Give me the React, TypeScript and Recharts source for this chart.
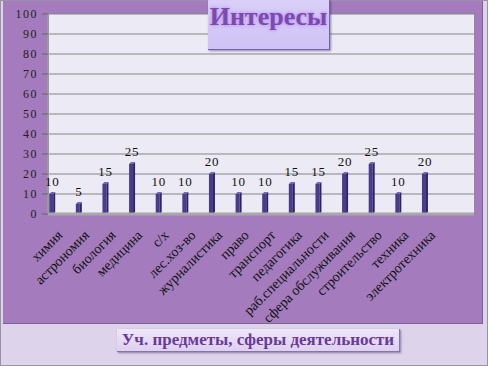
import React from 'react';
import { BarChart, Bar, XAxis, YAxis, CartesianGrid, LabelList } from 'recharts';

const categories = [
  'химия', 'астрономия', 'биология', 'медицина', 'с/х', 'лес.хоз-во', 'журналистика', 'право',
  'транспорт', 'педагогика', 'раб.специальности', 'сфера обслуживания', 'строительство', 'техника',
  'электротехника', '',
];
const values: (number | null)[] = [10, 5, 15, 25, 10, 10, 20, 10, 10, 15, 15, 20, 25, 10, 20, null];
const yTicks = [0, 10, 20, 30, 40, 50, 60, 70, 80, 90, 100];
const chartTitle = 'Интересы';
const axisTitle = 'Уч. предметы, сферы деятельности';

const data = categories.map((name, i) => ({ name, value: values[i] }));

const SERIF = '"Liberation Serif", "DejaVu Serif", serif';
const BAR_DX = -9.3;

const Bar3D = (props: any) => {
  const { x, y, width, height } = props;
  if (!height || height <= 0) return null;
  const cx = x + width / 2 + BAR_DX;
  return (
    <g>
      <rect x={cx - 3} y={y} width={4} height={height} fill="#4A3B8E" />
      <polygon
        points={`${cx + 1},${y} ${cx + 3},${y - 2} ${cx + 3},${y + height - 2} ${cx + 1},${y + height}`}
        fill="#2D2463"
      />
      <polygon
        points={`${cx - 3},${y} ${cx - 1},${y - 2} ${cx + 3},${y - 2} ${cx + 1},${y}`}
        fill="#7466B6"
      />
    </g>
  );
};

const renderLabel = (props: any) => {
  const { x, y, width, value } = props;
  if (value == null) return null;
  return (
    <text
      x={x + width / 2 + BAR_DX}
      y={y - 8}
      textAnchor="middle"
      fontFamily={SERIF}
      fontSize={13}
      letterSpacing={0.8}
      fill="#111111"
      stroke="none"
    >
      {value}
    </text>
  );
};

const XTick = (props: any) => {
  const { x, y, payload } = props;
  const ax = x + 2;
  const ay = y + 14;
  return (
    <text
      x={ax}
      y={ay}
      transform={`rotate(-45, ${ax}, ${ay})`}
      textAnchor="end"
      fontFamily={SERIF}
      fontSize={14}
      fill="#111"
    >
      {payload.value}
    </text>
  );
};

const YTick = (props: any) => {
  const { x, y, payload } = props;
  return (
    <text
      x={x - 2}
      y={y + 4}
      textAnchor="end"
      fontFamily={SERIF}
      fontSize={12}
      letterSpacing={1.5}
      fill="#222"
    >
      {payload.value}
    </text>
  );
};

export default function App() {
  return (
    <div
      style={{
        position: 'absolute',
        left: 0,
        top: 0,
        width: 488,
        height: 366,
        background: '#DDD3EB',
        overflow: 'hidden',
      }}
    >
      <div
        style={{
          position: 'absolute',
          left: 0,
          top: 0,
          width: 486,
          height: 364,
          border: '1px solid #9a90a8',
        }}
      />
      <div
        style={{
          position: 'absolute',
          left: 3,
          top: 1,
          width: 479,
          height: 322,
          background: '#A47CBD',
          borderRight: '1px solid #7d6394',
          borderBottom: '1px solid #7d6394',
        }}
      />
      <div style={{ position: 'absolute', left: 0, top: 0 }}>
        <BarChart
          width={488}
          height={366}
          data={data}
          margin={{ top: 14, right: 14, bottom: 52, left: 8 }}
          barSize={5}
        >
          <CartesianGrid
            vertical={false}
            horizontal
            stroke="#858585"
            fill="#ECEAF5"
            fillOpacity={1}
          />
          <XAxis
            dataKey="name"
            interval={0}
            height={100}
            tickLine={false}
            axisLine={{ stroke: '#a8a8a8', strokeWidth: 3 }}
            tick={<XTick />}
          />
          <YAxis
            domain={[0, 100]}
            ticks={yTicks}
            width={40}
            interval={0}
            tickSize={6}
            tickLine={{ stroke: '#666' }}
            axisLine={{ stroke: '#9a9a9a', strokeWidth: 2 }}
            tick={<YTick />}
          />
          <Bar dataKey="value" shape={<Bar3D />} isAnimationActive={false}>
            <LabelList dataKey="value" content={renderLabel} />
          </Bar>
        </BarChart>
      </div>
      <div
        style={{
          position: 'absolute',
          left: 208,
          top: 0,
          width: 121,
          height: 49,
          background: 'linear-gradient(180deg, #D9CFF8 0%, #CFC3F5 100%)',
          borderRight: '1px solid #6F62B0',
          borderBottom: '1px solid #6F62B0',
          boxShadow: '1px 1px 2px rgba(60,40,90,0.5)',
          textAlign: 'center',
          fontFamily: SERIF,
          fontWeight: 'bold',
          fontSize: 26,
          lineHeight: '34px',
          color: '#7A4AAE',
          textShadow: '0 0 4px #B88BE8, 0 0 2px #C9A2F2',
        }}
      >
        {chartTitle}
      </div>
      <div
        style={{
          position: 'absolute',
          left: 117,
          top: 329,
          width: 282,
          height: 22,
          background: 'linear-gradient(180deg, #EEE6F8 0%, #DDD0F0 100%)',
          borderRight: '1px solid #8a72ad',
          borderBottom: '1px solid #8a72ad',
          boxShadow: '1px 1px 2px rgba(60,40,90,0.5)',
          textAlign: 'center',
          fontFamily: SERIF,
          fontWeight: 'bold',
          fontSize: 17,
          lineHeight: '22px',
          color: '#6A3A98',
          whiteSpace: 'nowrap',
        }}
      >
        {axisTitle}
      </div>
    </div>
  );
}
